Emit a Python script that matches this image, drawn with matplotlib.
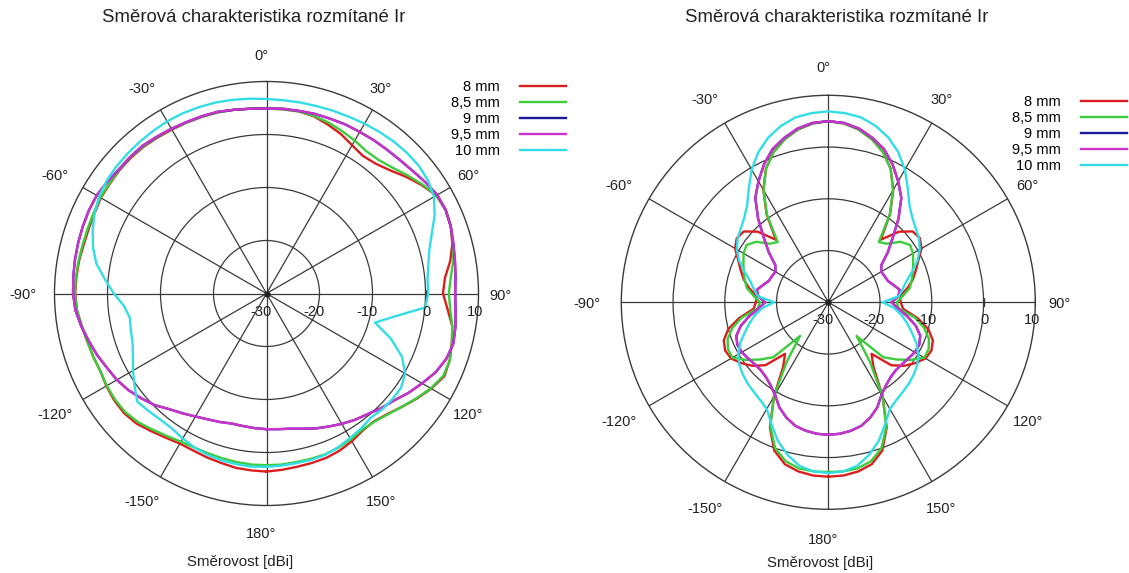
import numpy as np
import matplotlib
matplotlib.use("Agg")
import matplotlib.pyplot as plt
from matplotlib.transforms import offset_copy

plt.rcParams['font.family'] = ['Liberation Sans', 'DejaVu Sans']

# ---------------- data ----------------
angles = np.arange(-180, 181, 5)  # degrees, 0 = front, clockwise positive

series_labels = ['8 mm', '8,5 mm', '9 mm', '9,5 mm', '10 mm']
series_colors = ['#d81e1e', '#3ccc3c', '#1a1a9a', '#cc33cc', '#33dde6']

# left chart (dBi)
left_8 = [3.6, 3.5, 3.4, 3.1, 2.9, 2.7, 2.7, 3.2, 3.9,
          4.7, 5.1, 5.1, 4.9, 4.6, 4.8, 5.0, 5.4, 5.9,
          6.1, 6.0, 5.9, 5.7, 5.7, 5.8, 6.1, 6.1, 6.2,
          6.2, 6.1, 5.9, 5.7, 5.6, 5.5, 5.4, 5.2, 5.0,
          4.9, 4.9, 4.9, 4.6, 3.9, 3.2, 2.3, 1.7, 2.0,
          2.9, 4.3, 5.7, 7.0, 7.3, 7.0, 6.3, 5.2, 3.8,
          3.3, 4.3, 5.6, 6.2, 6.8, 7.0, 5.9, 4.6, 3.3,
          2.2, 1.5, 1.6, 2.2, 2.7, 3.0, 3.1, 3.2, 3.4,
          3.6]
left_85 = [2.4, 2.4, 2.3, 2.2, 2.1, 2.1, 2.3, 2.8, 3.5,
           4.3, 4.8, 4.9, 4.8, 4.6, 4.8, 5.0, 5.4, 5.9,
           6.2, 6.1, 6.0, 5.9, 5.9, 6.0, 6.2, 6.2, 6.3,
           6.3, 6.2, 6.0, 5.8, 5.6, 5.5, 5.4, 5.2, 5.0,
           4.9, 4.9, 4.9, 4.7, 4.3, 3.8, 3.3, 2.8, 2.9,
           3.6, 4.7, 5.9, 7.0, 7.3, 7.0, 6.4, 5.8, 4.9,
           4.4, 4.8, 5.6, 6.2, 6.8, 6.8, 5.8, 4.5, 3.3,
           2.3, 1.6, 1.4, 1.8, 2.1, 2.3, 2.3, 2.3, 2.4,
           2.4]
left_9 = [-4.4, -4.5, -4.6, -4.6, -4.2, -3.8, -3.2, -2.4, -1.5,
          -0.2, 0.8, 1.8, 2.6, 3.2, 4.0, 4.7, 5.5, 6.2,
          6.5, 6.6, 6.7, 6.8, 6.9, 7.0, 7.0, 6.7, 6.4,
          6.4, 6.4, 6.1, 5.9, 5.7, 5.6, 5.5, 5.2, 5.0,
          4.9, 5.0, 5.0, 5.1, 5.1, 5.2, 5.2, 5.3, 5.4,
          5.6, 6.0, 6.6, 7.2, 7.3, 7.0, 6.5, 6.1, 5.8,
          5.6, 5.8, 6.2, 6.5, 6.1, 5.2, 3.9, 2.7, 1.4,
          0.6, -0.3, -0.9, -1.6, -2.3, -2.9, -3.6, -4.1, -4.3,
          -4.4]
left_95 = [-4.4, -4.5, -4.6, -4.6, -4.2, -3.8, -3.2, -2.4, -1.5,
           -0.2, 0.8, 1.8, 2.6, 3.2, 4.0, 4.7, 5.5, 6.2,
           6.5, 6.6, 6.7, 6.8, 6.9, 7.0, 7.0, 6.7, 6.4,
           6.4, 6.4, 6.1, 5.9, 5.7, 5.6, 5.5, 5.2, 5.0,
           4.9, 5.0, 5.0, 5.1, 5.1, 5.2, 5.2, 5.3, 5.4,
           5.6, 6.0, 6.6, 7.2, 7.3, 7.0, 6.5, 6.1, 5.8,
           5.6, 5.8, 6.2, 6.5, 6.1, 5.2, 3.9, 2.7, 1.4,
           0.6, -0.3, -0.9, -1.6, -2.3, -2.9, -3.6, -4.1, -4.3,
           -4.4]
left_10 = [2.7, 2.8, 2.7, 2.6, 2.4, 2.1, 1.6, 1.1, 1.1,
           1.4, 1.8, 0.4, -0.9, -2.2, -3.1, -3.5, -3.8, -3.0,
           -1.2, 0.6, 2.6, 3.9, 4.9, 5.8, 6.5, 6.9, 7.1,
           7.2, 7.3, 7.4, 7.5, 7.5, 7.4, 7.3, 7.1, 6.9,
           6.7, 6.6, 6.6, 6.6, 6.7, 6.8, 7.0, 7.2, 7.4,
           7.5, 7.5, 7.2, 6.5, 5.0, 3.2, 1.8, 1.0, 0.5,
           0.5, 0.1, -5.3, -8.8, -5.0, -1.8, 0.2, 1.0, 1.0,
           0.9, 0.6, 1.1, 1.5, 2.0, 2.4, 2.5, 2.5, 2.6,
           2.7]

# right chart (dBi)
right_8 = [3.7, 3.6, 3.2, 2.4, 0.5, -3.3, -9.0, -14.8, -17.0,
           -12.8, -10.9, -9.5, -8.3, -8.0, -8.5, -10.0, -12.5, -15.5,
           -16.0, -16.1, -14.5, -13.1, -12.0, -10.8, -9.2, -8.4, -8.7,
           -10.7, -14.2, -9.2, -4.9, -1.5, 0.9, 2.6, 3.9, 4.7,
           5.0, 4.7, 3.9, 2.6, 0.9, -1.5, -4.9, -9.2, -14.2,
           -10.7, -8.7, -8.4, -9.2, -10.8, -12.0, -13.1, -14.5, -16.1,
           -16.0, -15.5, -12.5, -10.0, -8.5, -8.0, -8.3, -9.5, -10.9,
           -12.8, -17.0, -14.8, -9.0, -3.3, 0.5, 2.4, 3.2, 3.6,
           3.7]
right_85 = [2.8, 2.8, 2.6, 1.8, 0.0, -3.5, -9.0, -16.0, -21.5,
            -15.0, -12.8, -10.6, -8.6, -8.6, -9.3, -10.8, -13.0, -16.3,
            -16.8, -15.5, -14.0, -13.3, -12.6, -11.9, -11.1, -10.7, -11.8,
            -14.0, -14.8, -9.3, -5.0, -1.5, 0.9, 2.6, 3.9, 4.7,
            5.0, 4.7, 3.9, 2.6, 0.9, -1.5, -5.0, -9.3, -14.8,
            -14.0, -11.8, -10.7, -11.1, -11.9, -12.6, -13.3, -14.0, -15.5,
            -16.8, -16.3, -13.0, -10.8, -9.3, -8.6, -8.6, -10.6, -12.8,
            -15.0, -21.5, -16.0, -9.0, -3.5, 0.0, 1.8, 2.6, 2.8,
            2.8]
right_9 = [-4.4, -4.5, -4.8, -5.3, -6.3, -7.6, -9.4, -10.5, -11.2,
           -11.5, -11.4, -11.1, -10.7, -10.6, -11.1, -12.5, -14.5, -16.5,
           -17.8, -16.4, -16.0, -17.0, -17.8, -18.0, -18.2, -17.5, -15.0,
           -12.4, -8.9, -5.4, -3.0, -0.6, 1.5, 2.9, 4.1, 4.8,
           5.0, 4.8, 4.1, 2.9, 1.5, -0.6, -3.0, -5.4, -8.9,
           -12.4, -15.0, -17.5, -18.2, -18.0, -17.8, -17.0, -16.0, -16.4,
           -17.8, -16.5, -14.5, -12.5, -11.1, -10.6, -10.7, -11.1, -11.4,
           -11.5, -11.2, -10.5, -9.4, -7.6, -6.3, -5.3, -4.8, -4.5,
           -4.4]
right_95 = [-4.4, -4.5, -4.8, -5.3, -6.3, -7.6, -9.4, -10.5, -11.2,
            -11.5, -11.4, -11.1, -10.7, -10.6, -11.1, -12.5, -14.5, -16.5,
            -17.8, -16.4, -16.0, -17.0, -17.8, -18.0, -18.2, -17.5, -15.0,
            -12.4, -8.9, -5.4, -3.0, -0.6, 1.5, 2.9, 4.1, 4.8,
            5.0, 4.8, 4.1, 2.9, 1.5, -0.6, -3.0, -5.4, -8.9,
            -12.4, -15.0, -17.5, -18.2, -18.0, -17.8, -17.0, -16.0, -16.4,
            -17.8, -16.5, -14.5, -12.5, -11.1, -10.6, -10.7, -11.1, -11.4,
            -11.5, -11.2, -10.5, -9.4, -7.6, -6.3, -5.3, -4.8, -4.5,
            -4.4]
right_10 = [3.0, 2.8, 2.1, 0.5, -1.5, -4.0, -6.2, -7.0, -7.5,
            -7.9, -8.4, -9.0, -9.9, -11.2, -12.8, -14.2, -15.6, -17.2,
            -19.5, -16.3, -15.4, -14.4, -12.8, -11.0, -9.6, -8.6, -7.9,
            -7.0, -5.6, -3.2, -0.4, 2.0, 3.9, 5.3, 6.3, 6.7,
            6.9, 6.7, 6.3, 5.3, 3.9, 2.0, -0.4, -3.2, -5.6,
            -7.0, -7.9, -8.6, -9.6, -11.0, -12.8, -14.4, -15.4, -16.3,
            -19.5, -17.2, -15.6, -14.2, -12.8, -11.2, -9.9, -9.0, -8.4,
            -7.9, -7.5, -7.0, -6.2, -4.0, -1.5, 0.5, 2.1, 2.8,
            3.0]

theta_ticks = [0, 30, 60, 90, 120, 150, 180, -150, -120, -90, -60, -30]
theta_labels = ['0°', '30°', '60°', '90°', '120°', '150°', '180°',
                '-150°', '-120°', '-90°', '-60°', '-30°']
r_ticks = [-30, -20, -10, 0, 10]
title_text = 'Směrová charakteristika rozmítané Ir'
xlabel_text = 'Směrovost [dBi]'

# ---------------- figure ----------------
W, H = 1129, 573
fig = plt.figure(figsize=(W / 100, H / 100), dpi=100)
GRID = '#3a3a3a'


def make_polar(cx, cy, R, data, legend_anchor, label_dist):
    ax = fig.add_axes([(cx - R) / W, (H - cy - R) / H, 2 * R / W, 2 * R / H],
                      projection='polar')
    ax.set_theta_zero_location('N')
    ax.set_theta_direction(-1)
    ax.set_ylim(-30, 10)
    ax.set_yticks([-20, -10, 0])
    ax.set_yticklabels([])
    ax.set_xticks(np.deg2rad(np.arange(0, 360, 30)))
    ax.set_xticklabels([])
    ax.grid(True, color=GRID, lw=0.9)
    ax.spines['polar'].set_color(GRID)
    ax.spines['polar'].set_linewidth(1.0)
    ax.tick_params(length=0)

    th = np.deg2rad(angles)
    handles = []
    for vals, lab, col in zip(data, series_labels, series_colors):
        h, = ax.plot(th, vals, color=col, lw=1.7, label=lab, zorder=3)
        handles.append(h)

    # center dot and small ticks on the 90° axis
    ax.plot([0], [-30], 'o', ms=3.5, color='#222222', zorder=4)
    ax.plot([np.pi / 2] * 2, [0, 10], ls='none', marker='|', ms=6,
            mew=1.0, color=GRID, zorder=2)

    # angle labels
    r_lab = -30 + label_dist / R * 40
    tr = offset_copy(ax.transData, fig=fig, x=-5, y=-2, units='dots')
    for t, lab in zip(theta_ticks, theta_labels):
        ax.text(np.deg2rad(t), r_lab, lab, transform=tr, ha='center',
                va='center', fontsize=10.5, color='#222222')
    # radial labels
    tr2 = offset_copy(ax.transData, fig=fig, x=5, y=-18, units='dots')
    for r in r_ticks:
        ax.text(np.pi / 2, r, str(r), transform=tr2, ha='right',
                va='center', fontsize=10.5, color='#222222')

    ax.legend(handles, series_labels, loc='upper right',
              bbox_to_anchor=(legend_anchor[0] / W, 1 - legend_anchor[1] / H),
              bbox_transform=fig.transFigure, frameon=False,
              markerfirst=False, handlelength=3.15, handletextpad=1.4,
              labelspacing=0.135, borderpad=0, borderaxespad=0, fontsize=10.5)
    return ax


make_polar(266.5, 293.5, 212, [left_8, left_85, left_9, left_95, left_10],
           (566, 80), 239)
make_polar(828.3, 302.3, 207, [right_8, right_85, right_9, right_95, right_10],
           (1127, 95), 236)

fig.text(253.5 / W, 1 - 18 / H, title_text, ha='center', va='center',
         fontsize=13.4, color='#222222')
fig.text(837 / W, 1 - 18 / H, title_text, ha='center', va='center',
         fontsize=13.4, color='#222222')
fig.text(240 / W, 1 - 562 / H, xlabel_text, ha='center', va='center',
         fontsize=10.8, color='#222222')
fig.text(820.5 / W, 1 - 563 / H, xlabel_text, ha='center', va='center',
         fontsize=10.8, color='#222222')

fig.savefig('out.png', dpi=100, facecolor='white')
